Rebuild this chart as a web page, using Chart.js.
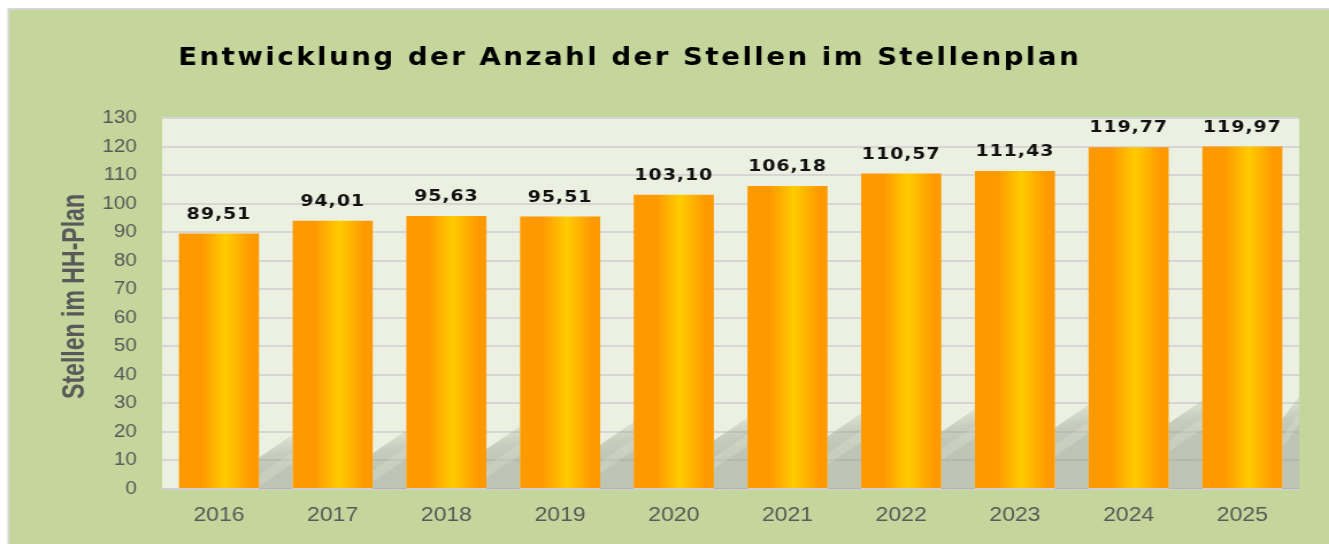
<!DOCTYPE html>
<html>
<head>
<meta charset="utf-8">
<script src="https://cdn.jsdelivr.net/npm/chart.js@4.4.1/dist/chart.umd.min.js"></script>
<style>
  html, body { margin: 0; padding: 0; background: #ffffff; overflow: hidden; }
  #wrap { position: absolute; left: 0; top: 0; width: 1156px; height: 544px;
          transform: scaleX(1.1497); transform-origin: 0 0; }
  canvas { display: block; }
</style>
</head>
<body>
<div id="wrap"><canvas id="c" width="1156" height="544"></canvas></div>
<script>
// ---- data ----
const TITLE = 'Entwicklung der Anzahl der Stellen im Stellenplan';
const Y_TITLE = 'Stellen im HH-Plan';
const YEARS = ['2016', '2017', '2018', '2019', '2020', '2021', '2022', '2023', '2024', '2025'];
const STELLEN = [89.51, 94.01, 95.63, 95.51, 103.10, 106.18, 110.57, 111.43, 119.77, 119.97];
const Y_MIN = 0, Y_MAX = 130, Y_STEP = 10;

// ---- style ----
const BAR_PCT = 0.704;
const GREEN = '#c4d69b';
const PLOT_BG = '#ebf0e0';
const TICK_COLOR = '#595959';

function fmt(v) { return v.toFixed(2).replace('.', ','); }

function barGradient(ctx) {
  const chart = ctx.chart;
  const xs = chart.scales && chart.scales.x;
  if (!xs || !chart.chartArea) return '#ff9900';
  const cw = xs.width / YEARS.length;
  const bw = cw * BAR_PCT;
  const cx = xs.getPixelForValue(ctx.dataIndex);
  const x0 = cx - bw / 2;
  const g = chart.ctx.createLinearGradient(x0, 0, x0 + bw, 0);
  g.addColorStop(0, '#ff9900');
  g.addColorStop(0.28, '#ff9900');
  g.addColorStop(0.58, '#ffcc00');
  g.addColorStop(0.9, '#ff9900');
  g.addColorStop(1, '#ff9900');
  return g;
}

const backgroundPlugin = {
  id: 'panelBg',
  beforeDraw(chart) {
    const c = chart.ctx, W = chart.width, H = chart.height, a = chart.chartArea;
    c.save();
    c.fillStyle = '#ffffff';
    c.fillRect(0, 0, W, H);
    c.fillStyle = '#d6d6d6';
    c.fillRect(6.4, 8, W, H);
    c.fillStyle = GREEN;
    c.fillRect(8.2, 10, W, H);
    c.fillStyle = PLOT_BG;
    c.fillRect(a.left, a.top, a.right - a.left, a.bottom - a.top);
    c.restore();
  }
};

const shadowPlugin = {
  id: 'floorShadow',
  beforeDatasetsDraw(chart) {
    const c = chart.ctx, a = chart.chartArea, ys = chart.scales.y;
    const metas = chart.getDatasetMeta(0).data;
    c.save();
    c.beginPath();
    c.rect(a.left, a.top, a.right - a.left, a.bottom - a.top);
    c.clip();
    for (let i = 0; i < metas.length; i++) {
      const b = metas[i];
      const gl = b.x + b.width / 2;
      const gr = (i + 1 < metas.length) ? metas[i + 1].x - metas[i + 1].width / 2 : a.right;
      const hL = 11 + i * 1.5, hR = hL + 8;
      const yL = ys.getPixelForValue(hL), yR = ys.getPixelForValue(hR);
      const g = c.createLinearGradient(gl, yR - 6, gl + 8, yL + 16);
      g.addColorStop(0, 'rgba(150,156,140,0)');
      g.addColorStop(0.6, 'rgba(150,156,140,0.42)');
      g.addColorStop(1, 'rgba(150,156,140,0.52)');
      c.fillStyle = g;
      c.beginPath();
      c.moveTo(gl, yL);
      c.lineTo(gr, yR);
      c.lineTo(gr, a.bottom);
      c.lineTo(gl, a.bottom);
      c.closePath();
      c.fill();
      // soft light diagonal streak
      const s1 = ys.getPixelForValue(hL - 6), s2 = ys.getPixelForValue(hR - 6);
      const s3 = ys.getPixelForValue(hR - 10), s4 = ys.getPixelForValue(hL - 10);
      c.fillStyle = 'rgba(235,240,224,0.22)';
      c.beginPath();
      c.moveTo(gl, s1); c.lineTo(gr, s2); c.lineTo(gr, s3); c.lineTo(gl, s4);
      c.closePath();
      c.fill();
    }
    c.restore();
  }
};

const labelPlugin = {
  id: 'labelsAndTitle',
  afterDatasetsDraw(chart) {
    const c = chart.ctx;
    const metas = chart.getDatasetMeta(0).data;
    c.save();
    c.font = 'bold 16.5px "DejaVu Sans", Verdana, sans-serif';
    c.fillStyle = '#111111';
    c.textAlign = 'center';
    c.textBaseline = 'middle';
    if ('letterSpacing' in c) c.letterSpacing = '0.8px';
    metas.forEach((b, i) => {
      c.fillText(fmt(STELLEN[i]), b.x, b.y - 19);
    });
    c.restore();
  },
  afterDraw(chart) {
    const c = chart.ctx, a = chart.chartArea;
    // chart title
    c.save();
    c.font = 'bold 24px "DejaVu Sans", Verdana, sans-serif';
    c.fillStyle = '#000000';
    c.textAlign = 'left';
    c.textBaseline = 'alphabetic';
    const target = 783;
    const n = TITLE.length;
    const base = c.measureText(TITLE).width;
    const sp = Math.max(0, (target - base) / (n - 1));
    if ('letterSpacing' in c) c.letterSpacing = sp.toFixed(2) + 'px';
    c.fillText(TITLE, 155, 65);
    c.restore();
    // y axis title (condensed bold)
    c.save();
    c.font = 'bold 28px "Liberation Sans", Arial, sans-serif';
    c.fillStyle = TICK_COLOR;
    c.textAlign = 'center';
    c.textBaseline = 'middle';
    c.translate(65.5, (a.top + a.bottom) / 2 - 7);
    c.rotate(-Math.PI / 2);
    const w = c.measureText(Y_TITLE).width;
    c.scale(205 / w, 1);
    c.fillText(Y_TITLE, 0, 0);
    c.restore();
  }
};

new Chart(document.getElementById('c'), {
  type: 'bar',
  data: {
    labels: YEARS,
    datasets: [{
      data: STELLEN,
      backgroundColor: barGradient,
      borderWidth: 0,
      barPercentage: BAR_PCT,
      categoryPercentage: 1.0
    }]
  },
  options: {
    responsive: false,
    animation: false,
    events: [],
    layout: { padding: { top: 118, right: 26, bottom: 0, left: 0 } },
    plugins: { legend: { display: false }, title: { display: false }, tooltip: { enabled: false } },
    scales: {
      x: {
        afterFit(s) { s.height = 55; },
        grid: { display: false, drawTicks: false },
        border: { display: true, color: '#d0d0d0', width: 2 },
        ticks: { color: TICK_COLOR, padding: 14, font: { family: '"Liberation Sans", Arial, sans-serif', size: 20 } }
      },
      y: {
        min: Y_MIN, max: Y_MAX,
        afterFit(s) { s.width = 141; },
        grid: { color: '#d6d6d6', lineWidth: 2, drawTicks: false },
        border: { display: false },
        ticks: { stepSize: Y_STEP, color: TICK_COLOR, padding: 22, font: { family: '"Liberation Sans", Arial, sans-serif', size: 18 } },
        title: { display: false }
      }
    }
  },
  plugins: [backgroundPlugin, shadowPlugin, labelPlugin]
});
</script>
</body>
</html>
